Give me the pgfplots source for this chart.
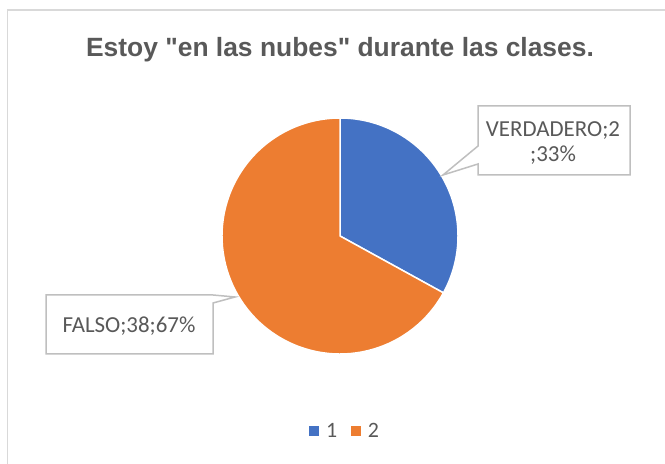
\documentclass[border=0pt]{standalone}
\usepackage{pgfplots}
\usepackage{pgfplotstable}
\pgfplotsset{compat=1.18}
\usepackage{fontspec}
\setmainfont{Carlito}
\newfontfamily\titlefont{Liberation Sans}
\definecolor{cblue}{HTML}{4472C4}
\definecolor{corange}{HTML}{ED7D31}
\definecolor{txt}{HTML}{595959}
\definecolor{framec}{HTML}{D9D9D9}
\definecolor{calloutc}{HTML}{BFBFBF}

\pgfplotstableread{
cat pct
1 33
2 67
}\piedata
\pgfplotstablegetelem{0}{pct}\of\piedata \edef\pA{\pgfplotsretval}
\pgfplotstablegetelem{1}{pct}\of\piedata \edef\pB{\pgfplotsretval}
\pgfmathsetmacro{\angS}{90}
\pgfmathsetmacro{\angA}{90-3.6*\pA}
\pgfmathsetmacro{\angB}{\angA-3.6*\pB}
\def\cx{340}\def\cy{228}\def\R{118}
\pgfmathsetmacro{\sX}{\cx+\R*cos(\angS)}
\pgfmathsetmacro{\sY}{\cy+\R*sin(\angS)}
\pgfmathsetmacro{\oX}{\cx+\R*cos(\angA)}
\pgfmathsetmacro{\oY}{\cy+\R*sin(\angA)}

\begin{document}
\begin{tikzpicture}
\useasboundingbox (0,0) rectangle (665bp,464bp);
\begin{axis}[
  at={(0,0)}, anchor=south west,
  scale only axis, width=665bp, height=464bp,
  xmin=0, xmax=665, ymin=0, ymax=464,
  hide axis, clip=false,
  legend columns=2,
  legend style={draw=none, fill=none, at={(0.519,0.071)}, anchor=center,
    font=\fontsize{22}{24}\selectfont, text=txt,
    /tikz/every odd column/.append style={column sep=6bp},
    /tikz/every even column/.append style={column sep=12bp}},
]
% chart frame
\draw[framec, line width=1.5bp] (axis cs:7.5,-20) -- (axis cs:7.5,454) -- (axis cs:690,454);
% pie slices
\fill[cblue, draw=white, line width=1.5bp, line join=round] (axis cs:\cx,\cy) -- (axis cs:\sX,\sY) arc[start angle=\angS, end angle=\angA, radius=\R bp] -- cycle;
\fill[corange, draw=white, line width=1.5bp, line join=round] (axis cs:\cx,\cy) -- (axis cs:\oX,\oY) arc[start angle=\angA, end angle=\angB, radius=\R bp] -- cycle;
% callouts
\draw[calloutc, line width=1.5bp, fill=white] (axis cs:478,358) -- (axis cs:630,358) -- (axis cs:630,289) -- (axis cs:478,289) -- (axis cs:478,300) -- (axis cs:443,289) -- (axis cs:478,318) -- cycle;
\node[text=txt, font=\fontsize{23}{26}\selectfont, align=center] at (axis cs:553,321) {VERDADERO;2\\;33\%};
\draw[calloutc, line width=1.5bp, fill=white] (axis cs:46,169) -- (axis cs:213,169) -- (axis cs:235,167) -- (axis cs:213,161) -- (axis cs:213,110) -- (axis cs:46,110) -- cycle;
\node[text=txt, font=\fontsize{23}{26}\selectfont] at (axis cs:129,138) {FALSO;38;67\%};
% title
\node[text=txt, font=\titlefont\bfseries\fontsize{26.5}{30}\selectfont] at (axis cs:340,414) {Estoy "en las nubes" durante las clases.};
\addlegendimage{only marks, mark=square*, mark size=4.4bp, cblue, mark options={draw=none}}
\addlegendentry{1}
\addlegendimage{only marks, mark=square*, mark size=4.4bp, corange, mark options={draw=none}}
\addlegendentry{2}
\end{axis}
\end{tikzpicture}
\end{document}
